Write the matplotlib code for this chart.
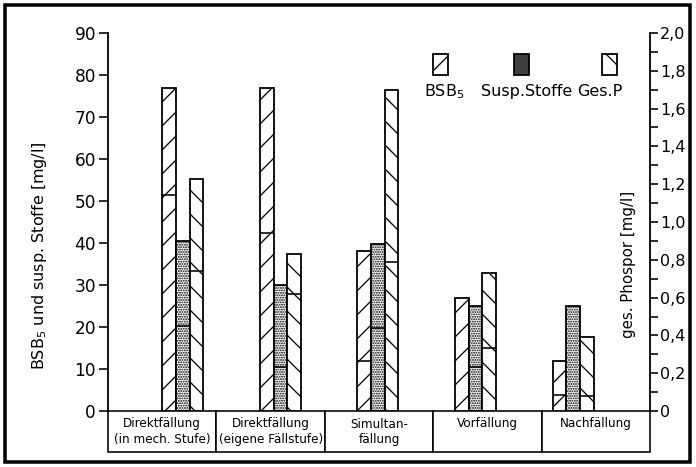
import matplotlib.pyplot as plt
import numpy as np
from matplotlib.patches import Rectangle

# data
categories = ["Direktfällung\n(in mech. Stufe)", "Direktfällung\n(eigene Fällstufe)",
              "Simultan-\nfällung", "Vorfällung\n", "Nachfällung\n"]
bsb5 = [77, 77, 38, 27, 12]
bsb5_inner = [51.5, 42.5, 12, np.nan, 3.8]
susp = [40.5, 30, 39.8, 25, 25]
susp_inner = [20.3, 10.5, 19.8, 10.5, np.nan]
gesp = [1.23, 0.83, 1.70, 0.73, 0.39]
gesp_inner = [0.74, 0.62, 0.79, 0.335, 0.08]

plt.rcParams['hatch.linewidth'] = 1.3
plt.rcParams['font.family'] = 'DejaVu Sans'

fig = plt.figure(figsize=(696 / 72, 467 / 72), dpi=72)
ax = fig.add_axes([108 / 696, 1 - 411 / 467, 542 / 696, 378 / 467])
ax2 = ax.twinx()

n = len(categories)
w = 0.126
centers = 0.69 + 0.9 * np.arange(n)
x_b = centers - 1.5 * w
x_s = centers - 0.5 * w
x_p = centers + 0.5 * w

kw = dict(width=w, align='edge', color='white', edgecolor='black', linewidth=1.8)
ax.bar(x_b, bsb5, hatch='/', **kw)
ax.bar(x_s, susp, hatch='.....', **kw)
ax2.bar(x_p, gesp, hatch='\\', **kw)

ax.hlines(bsb5_inner, x_b, x_b + w, color='black', lw=1.6)
ax.hlines(susp_inner, x_s, x_s + w, color='black', lw=1.6)
ax2.hlines(gesp_inner, x_p, x_p + w, color='black', lw=1.6)

ax.set_xlim(0, n)
ax.set_ylim(0, 90)
ax2.set_ylim(0, 2.0)
ax.set_xticks([])
ax.set_yticks(np.arange(0, 91, 10))
ax2.set_yticks(np.arange(0, 2.01, 0.2))
ax2.set_yticks(np.arange(0.1, 2.0, 0.2), minor=True)
ax2.set_yticklabels(['0' if v == 0 else f"{v:.1f}".replace('.', ',') for v in np.arange(0, 2.01, 0.2)])

for a in (ax, ax2):
    a.spines['top'].set_visible(False)
    a.spines['bottom'].set_visible(False)
    for s in a.spines.values():
        s.set_linewidth(1.8)
ax.spines['right'].set_visible(False)
ax2.spines['left'].set_visible(False)
ax.tick_params(axis='y', length=9, width=1.6, labelsize=17, pad=3)
ax2.tick_params(axis='y', which='both', length=8, width=1.6, labelsize=16, pad=2)

# category table under the axis
tab = ax.table(cellText=[categories], cellLoc='center',
               bbox=[0, -41 / 378, 1, 41 / 378])
tab.auto_set_font_size(False)
for cell in tab.get_celld().values():
    cell.set_linewidth(1.6)
    cell.get_text().set_fontsize(12)
    cell.set_clip_on(False)

fig.text(40 / 696, 1 - 256 / 467, "BSB$_5$ und susp. Stoffe [mg/l]", rotation=90,
         ha='center', va='center', fontsize=16)
fig.text(628 / 696, 1 - 264 / 467, "ges. Phospor [mg/l]", rotation=90,
         ha='center', va='center', fontsize=15)

# legend boxes with labels underneath
leg = [(433, '/', 'white', "BSB$_5$", 444), (514, '......', '0.45', "Susp.Stoffe", 527),
       (602, '\\', 'white', "Ges.P", 600)]
for x0, h, fc, lab, tx in leg:
    fig.patches.append(Rectangle((x0 / 696, 1 - 75 / 467), 15 / 696, 21 / 467,
                                 transform=fig.transFigure, facecolor=fc,
                                 edgecolor='black', hatch=h, linewidth=1.8))
    fig.text(tx / 696, 1 - 92 / 467, lab, ha='center', va='center', fontsize=16)

# outer frame
fig.patches.append(Rectangle((5 / 696, 5 / 467), 685 / 696, 457 / 467,
                             transform=fig.transFigure, fill=False,
                             edgecolor='black', linewidth=3.5))

fig.savefig('out.png', dpi=72)
